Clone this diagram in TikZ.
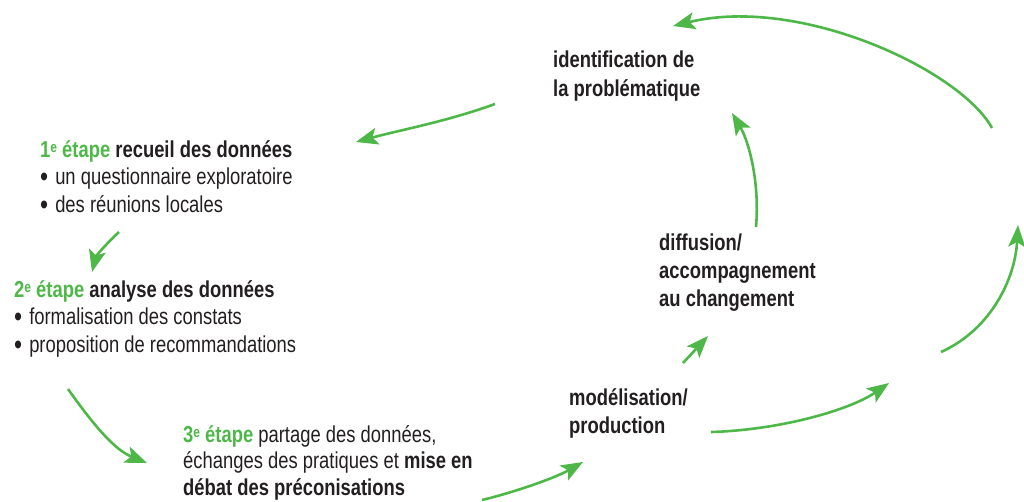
\documentclass[tikz,border=0pt]{standalone}
\usepackage{fontspec}
\setmainfont{Liberation Sans}[FakeStretch=0.8]
\usetikzlibrary{arrows.meta}
\definecolor{vert}{HTML}{4DB848}
\definecolor{encre}{HTML}{231F20}
\tikzset{
  lbl/.style={anchor=base west, align=left, inner sep=0pt, text=encre, font=\fontsize{23}{27.5}\selectfont},
  flow/.style={draw=vert, line width=2.6pt, -{Stealth[length=22pt,width=17pt,inset=5pt]}},
}
\newcommand{\vetape}[1]{\textcolor{vert}{\textbf{#1{\fontsize{15}{0}\selectfont\raisebox{0.55ex}{e}} étape}}}
\newcommand{\puce}{\raisebox{-0.2ex}{\scalebox{1.25}{\textbullet}}\hspace{7pt}}
\begin{document}
\begin{tikzpicture}[x=1pt,y=-1pt]
\useasboundingbox (0,0) rectangle (1024,501);
% texts (anchor = baseline of the last line)
\node[lbl] (n1) at (40,212) {\vetape{1} \textbf{recueil des données}\\
 \puce un questionnaire exploratoire\\
 \puce des réunions locales};
\node[lbl] (n2) at (14,352) {\vetape{2} \textbf{analyse des données}\\
 \puce formalisation des constats\\
 \puce proposition de recommandations};
\node[lbl, font=\fontsize{23}{26.5}\selectfont] (n3) at (183,495) {\vetape{3} partage des données,\\
 échanges des pratiques et \textbf{mise en}\\
 \textbf{débat des préconisations}};
\node[lbl, font=\bfseries\fontsize{23}{28}\selectfont] (n4) at (569,433) {modélisation/\\production};
\node[lbl, font=\bfseries\fontsize{23}{28}\selectfont] (n5) at (659,306) {diffusion/\\accompagnement\\au changement};
\node[lbl, font=\bfseries\fontsize{23}{28.5}\selectfont] (n6) at (553,96) {identification de\\la problématique};
% connector ends
\coordinate (a1s) at (495,104); \coordinate (a1e) at (356,142);
\coordinate (a2s) at (119,232); \coordinate (a2e) at (92,272);
\coordinate (a3s) at (68,389);  \coordinate (a3e) at (147,463);
\coordinate (a4s) at (482,500); \coordinate (a4e) at (583,462);
\coordinate (a5s) at (711,432); \coordinate (a5e) at (889,383);
\coordinate (a6s) at (683,363); \coordinate (a6e) at (708,336);
\coordinate (a7s) at (756,227); \coordinate (a7e) at (732,113);
\coordinate (a8s) at (941,352); \coordinate (a8e) at (1018,225);
\coordinate (a9s) at (992,128); \coordinate (a9e) at (673,26);
% arrows
\draw[flow] (a1s) .. controls (445,122) and (400,130) .. (a1e);
\draw[flow] (a2s) .. controls (106,244) and (96,256) .. (a2e);
\draw[flow] (a3s) .. controls (95,427) and (115,450) .. (a3e);
\draw[flow] (a4s) .. controls (515,492) and (555,478) .. (a4e);
\draw[flow] (a5s) .. controls (780,430) and (850,410) .. (a5e);
\draw[flow] (a6s) -- (a6e);
\draw[flow] (a7s) .. controls (760,180) and (748,140) .. (a7e);
\draw[flow] (a8s) .. controls (990,330) and (1015,280) .. (a8e);
\draw[flow] (a9s) .. controls (960,70) and (800,-5) .. (a9e);
\end{tikzpicture}
\end{document}
